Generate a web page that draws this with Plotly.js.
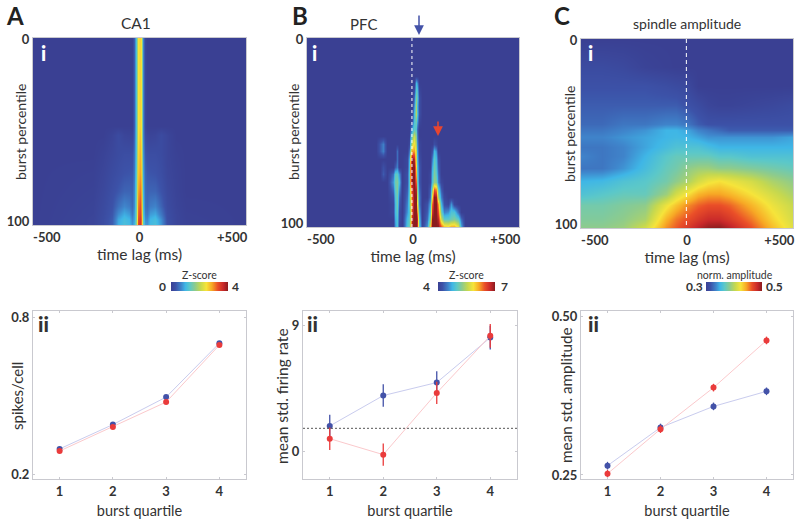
<!DOCTYPE html>
<html><head><meta charset="utf-8">
<script src="https://cdn.plot.ly/plotly-3.0.1.min.js"></script>
<style>html,body{margin:0;padding:0;background:#fff}</style></head>
<body><div id="g" style="width:800px;height:525px"></div>
<script>
const lagA=[-500,-220,-170,-130,-100,-75,-50,-35,-25,-18,-12,-6,0,6,12,18,25,35,50,75,100,130,170,220,500];
const pctA=[0,47,52,62,72,82,90,94,97,100];
const zA=[
[0,0,0,0,0,0,0,0,.4,1.2,1.8,2.5,2.6,2.5,1.6,.7,.1,0,0,0,0,0,0,0,0],
[0,0,0,0,0,0,0,0,.4,1.2,1.8,2.5,2.6,2.5,1.6,.7,.1,0,0,0,0,0,0,0,0],
[0,0,0,.08,.2,.1,.08,.08,.45,1.2,1.8,2.5,2.7,2.5,1.6,.7,.2,.1,.08,.1,.2,.1,0,0,0],
[0,0,.06,.14,.2,.24,.24,.26,.55,1.2,1.9,2.6,2.8,2.6,1.7,.8,.35,.26,.24,.24,.2,.1,.03,0,0],
[0,.03,.1,.2,.26,.32,.34,.36,.6,1.3,2,2.7,2.9,2.7,1.8,.9,.45,.36,.34,.32,.24,.12,.05,0,0],
[0,.05,.14,.26,.36,.46,.46,.44,.7,1.4,2.1,2.9,3.1,2.9,1.9,1,.5,.44,.46,.46,.32,.16,.06,0,0],
[0,.07,.18,.32,.55,.72,.64,.5,.75,1.5,2.3,3.1,3.3,3,2.1,1.1,.55,.5,.64,.7,.45,.2,.08,.02,0],
[0,.08,.2,.36,.75,.95,.85,.6,.85,1.5,2.4,3.2,3.4,3.1,2.2,1.2,.65,.6,.85,.92,.6,.24,.1,.03,0],
[0,.09,.22,.4,.9,1.1,1,.72,.9,1.6,2.5,3.3,3.5,3.2,2.3,1.3,.75,.72,1,1.1,.75,.26,.1,.04,0],
[0,.09,.22,.42,.95,1.15,1.05,.8,1,1.7,2.6,3.4,3.6,3.2,2.4,1.4,.85,.8,1.05,1.15,.8,.28,.1,.04,0]];

const lagB=[-500,-175,-155,-140,-125,-95,-85,-75,-65,-50,-30,-20,-12,-4,4,12,20,30,42,68,80,90,100,110,120,132,148,165,180,195,210,228,245,500];
const pctB=[0,20,24,28,32,36,40,44,48,52,56,60,64,68,72,76,80,84,88,92,96,100];
const zB=[
[4,4,4,4,4,4,4,4,4,4, 4,4,4,4,4,4,4,4,4, 4,4,4,4,4,4,4,4, 4,4,4,4,4, 4,4],
[4,4,4,4,4,4,4,4,4,4, 4,4,4,4,4,4,4,4,4, 4,4,4,4,4,4,4,4, 4,4,4,4,4, 4,4],
[4,4,4,4,4,4,4,4,4,4, 4,4,4,4,4,4.8,4.6,4,4, 4,4,4,4,4,4,4,4, 4,4,4,4,4, 4,4],
[4,4,4,4,4,4,4,4,4,4, 4,4,4,4,4.2,5,4.9,4.1,4, 4,4,4,4,4,4,4,4, 4,4,4,4,4, 4,4],
[4,4,4,4,4,4,4,4,4,4, 4,4,4,4,4.4,5.2,5,4.2,4, 4,4,4,4,4,4,4,4, 4,4,4,4,4, 4,4],
[4,4,4,4,4,4,4,4,4,4, 4,4,4,4,4.6,5.4,4.8,4.2,4, 4,4,4,4,4,4,4,4, 4,4,4,4,4, 4,4],
[4,4,4,4,4,4,4,4,4,4, 4,4,4,4.1,4.8,5.5,4.9,4.2,4, 4,4,4,4,4,4,4,4, 4,4,4,4,4, 4,4],
[4,4,4,4,4,4,4,4,4,4, 4,4,4,4.2,4.9,5.1,4.7,4.1,4, 4,4,4,4,4,4,4,4, 4,4,4,4,4, 4,4],
[4,4,4,4,4,4,4,4,4,4, 4,4,4.2,4.7,5,4.9,4.4,4,4, 4,4,4,4,4,4,4,4, 4,4,4,4,4, 4,4],
[4,4,4,4,4,4,4,4,4,4, 4,4,4.5,5.2,5.6,5.2,4.5,4,4, 4,4,4,4,4,4,4,4, 4,4,4,4,4, 4,4],
[4,4,4.3,4.5,4,4,4,4,4,4, 4,4.1,4.8,5.6,5.9,5.4,4.6,4.1,4, 4,4,4,4.2,4.1,4,4,4, 4,4,4,4,4, 4,4],
[4,4,4.3,4.5,4,4,4,4.4,4,4, 4,4.4,5.2,6.2,6.2,5.6,4.7,4.1,4, 4,4,4.2,4.8,4.6,4,4,4, 4,4,4,4,4, 4,4],
[4,4,4,4,4,4,4,4.4,4,4, 4.1,4.7,5.9,7,6.8,5.6,4.8,4.2,4, 4,4,4.5,5,4.8,4.2,4,4, 4,4,4,4,4, 4,4],
[4,4,4,4.2,4,4,4.3,4.5,4,4, 4.1,4.8,6.2,7,7,5.9,4.9,4.3,4, 4,4,4.7,5.1,4.9,4.3,4,4, 4,4,4,4,4, 4,4],
[4,4,4,4.3,4,4.4,5,5,4.6,4, 4.2,4.9,6.2,7,7,6.1,5,4.3,4, 4,4.1,4.8,5.2,5,4.4,4,4, 4,4,4,4,4, 4,4],
[4,4,4,4,4,4.6,5.1,5.2,4.8,4, 4.2,4.9,6.2,7,7,6.4,5.1,4.3,4, 4,4.1,4.9,5.3,5.2,4.5,4.1,4, 4,4,4,4,4, 4,4],
[4,4,4,4,4,4.4,5,5.2,4.6,4, 4.3,4.9,5.9,6.7,7,6.8,5.3,4.4,4, 4,4.3,5.3,6.4,6.2,5,4.3,4, 4,4,4,4,4, 4,4],
[4,4,4,4,4,4.2,4.9,5.1,4.4,4, 4.4,5,5.6,6.5,7,7,5.6,4.5,4, 4,4.4,5.9,7,6.9,5.4,4.5,4.1, 4,4,4,4,4, 4,4],
[4,4,4,4,4,4.1,4.8,5.1,4.3,4, 4.5,5,5.5,6.5,7,7,5.9,4.5,4, 4.2,4.7,6.4,7,7,6.2,4.8,4.2, 4.1,4.6,4.1,4,4, 4,4],
[4,4,4,4,4,4.1,4.8,5,4.2,4, 4.6,4.9,5.4,6.6,7,7,6.3,4.7,4, 4.3,4.9,6.7,7,7,6.5,5.1,4.5, 4.6,4.9,4.9,4.4,4, 4,4],
[4,4,4,4,4,4,4.7,4.9,4.2,4, 4.8,5,5.5,6.8,7,7,6.8,4.9,4, 4.4,5.2,7,7,7,6.8,5.6,5, 5,5.1,5.2,5,4.4, 4,4],
[4,4,4,4,4,4,4.6,4.9,4.1,4, 4.9,5.1,5.6,7,7,7,6.7,5,4.1, 4.6,5.8,7,7,7,7,6.5,6.1, 6,6.2,6.2,5.8,4.7, 4,4]];

const lagC=[-500,-400,-300,-200,-100,-50,0,50,100,150,200,300,400,500];
const pctC=[0,15,25,35,45,48,52,57,62,68,75,82,88,95,100];
const zC=[
[.3,.3,.3,.3,.3,.3,.3,.3,.3,.3,.3,.3,.3,.3],
[.31,.31,.308,.303,.301,.3,.3,.3,.3,.3,.3,.3,.3,.3],
[.315,.315,.315,.315,.312,.31,.308,.3,.3,.3,.3,.3,.3,.3],
[.32,.32,.32,.32,.32,.32,.315,.31,.305,.303,.303,.305,.307,.31],
[.325,.325,.33,.33,.335,.335,.33,.32,.315,.315,.315,.315,.315,.315],
[.33,.33,.335,.34,.35,.35,.345,.335,.33,.325,.32,.32,.32,.32],
[.335,.335,.34,.345,.35,.352,.35,.345,.34,.34,.34,.34,.34,.345],
[.33,.33,.335,.345,.355,.36,.36,.36,.355,.35,.35,.35,.35,.35],
[.335,.33,.335,.35,.365,.37,.37,.37,.37,.365,.365,.36,.36,.36],
[.33,.33,.34,.355,.37,.375,.385,.39,.39,.385,.385,.38,.375,.37],
[.35,.352,.36,.365,.375,.385,.395,.41,.42,.425,.42,.41,.395,.385],
[.36,.365,.37,.37,.39,.41,.425,.44,.445,.445,.44,.425,.41,.395],
[.375,.375,.38,.385,.42,.435,.45,.46,.465,.465,.46,.44,.42,.405],
[.38,.38,.385,.395,.44,.455,.465,.475,.482,.482,.475,.455,.43,.41],
[.385,.385,.39,.41,.45,.462,.475,.488,.498,.5,.49,.465,.438,.415]];

const quartiles=[1,2,3,4];
const spikesBlue=[.296,.389,.494,.70], spikesRed=[.288,.38,.475,.693];
const firingBlue=[1.79,3.96,4.89,8.1], firingRed=[.88,-.26,4.15,8.23];
const firingBlueErr=[.8,.8,.8,.85], firingRedErr=[.8,.8,.8,.85];
const ampBlue=[.2647,.3247,.3579,.3816], ampRed=[.2521,.3221,.3874,.4616];
const ampBlueErr=[.006,.006,.006,.006], ampRedErr=[.006,.006,.006,.006];
const firingBaseline=1.62;

const jet=[[0,'#3a4093'],[.08,'#3c52a8'],[.18,'#3f86cc'],[.25,'#3fb6e6'],[.33,'#5cc8c8'],[.42,'#8ccb8e'],[.52,'#c5d84f'],[.62,'#f6e43a'],[.72,'#f7a825'],[.82,'#ea4f28'],[.92,'#c7282a'],[1,'#8a1c1f']];
const W=800,H=525;
const FONT='Lato, "Open Sans", sans-serif', INK='#333333', EDGE='#c9c9cf';
const BLUE='#4352a8', RED='#ea3b3b', BLUEL='#c9ccee', REDL='#fbc9cc';
const dx=(a,b)=>[a/W,b/W], dy=(t,b)=>[1-b/H,1-t/H];

function cbar(cx,x0,x1){return {orientation:'h',x:cx/W,xanchor:'center',y:1-291/H,yanchor:'bottom',len:x1-x0,lenmode:'pixels',thickness:9,thicknessmode:'pixels',outlinewidth:0,showticklabels:false,ticks:'',xpad:0,ypad:0};}
function hm(x,y,z,zmin,zmax,n,cb){return {type:'heatmap',x,y,z,zmin,zmax,colorscale:jet,zsmooth:'best',xaxis:'x'+n,yaxis:'y'+n,colorbar:cb,hoverinfo:'skip'};}
function pts(y,err,c,cl,n){const t={type:'scatter',mode:'lines+markers',x:quartiles,y,xaxis:'x'+n,yaxis:'y'+n,showlegend:false,line:{color:cl,width:1},marker:{color:c,size:6},hoverinfo:'skip'};
 if(err)t.error_y={type:'data',array:err,visible:true,color:c,thickness:1.3,width:0};return t;}

const data=[
 hm(lagA,pctA,zA,0,4,1,cbar(199.5,171,228)),
 hm(lagB,pctB,zB,4,7,2,cbar(466.5,438,495)),
 hm(lagC,pctC,zC,.3,.5,3,cbar(734,706,762)),
 pts(spikesBlue,null,BLUE,BLUEL,4),pts(spikesRed,null,RED,REDL,4),
 pts(firingBlue,firingBlueErr,BLUE,BLUEL,5),pts(firingRed,firingRedErr,RED,REDL,5),
 pts(ampBlue,ampBlueErr,BLUE,BLUEL,6),pts(ampRed,ampRedErr,RED,REDL,6)
];

const tickF={family:FONT,size:13,color:INK,weight:700};
function hx(a,b,t){return {domain:dx(a,b),range:[-500,500],tickmode:'array',tickvals:[-435,0,435],ticktext:['-500','0','+500'],ticks:'',tickfont:tickF,showgrid:false,zeroline:false,showline:true,linecolor:EDGE,linewidth:1,mirror:true,anchor:'y'+t,title:{text:'time lag (ms)',font:{family:FONT,size:15.5,color:INK},standoff:1}};}
function hy(t,b,n){return {domain:dy(t,b),range:[100,0],tickmode:'array',tickvals:[1,98],ticktext:['0','100'],ticks:'',tickfont:tickF,showgrid:false,zeroline:false,showline:true,linecolor:EDGE,mirror:true,anchor:'x'+n};}
function lx(a,b,n){return {domain:dx(a,b),range:[.5,4.5],tickmode:'array',tickvals:quartiles,ticktext:['1','2','3','4'],ticks:'inside',ticklen:2,tickcolor:EDGE,tickfont:tickF,showgrid:false,zeroline:false,showline:true,linecolor:EDGE,linewidth:1,mirror:'allticks',anchor:'y'+n,title:{text:'burst quartile',font:{family:FONT,size:14.5,color:INK},standoff:8}};}
function ly(r,tv,tt,n){return {domain:dy(311,479),range:r,tickmode:'array',tickvals:tv,ticktext:tt,ticks:'inside',ticklen:2,tickcolor:EDGE,tickfont:tickF,showgrid:false,zeroline:false,showline:true,linecolor:EDGE,linewidth:1,mirror:'allticks',anchor:'x'+n};}

function txt(x,y,text,size,color,weight,extra){return Object.assign({xref:'paper',yref:'paper',x:x/W,y:1-y/H,text,showarrow:false,xanchor:'center',yanchor:'middle',font:{family:FONT,size,color,weight:weight||400}},extra||{});}
function arrow(x,y0,y1,c){return {xref:'paper',yref:'paper',x:x/W,y:1-y1/H,text:'',showarrow:true,ax:0,ay:y0-y1,arrowcolor:c,arrowwidth:1.5,arrowhead:2,arrowsize:1.3,standoff:0};}
const rot={textangle:-90};

const annotations=[
 txt(15,16,'A',24,'#222',700),txt(300,16,'B',24,'#222',700),txt(562,16,'C',24,'#222',700),
 txt(136,23,'CA1',15.5,INK),txt(363,24,'PFC',15,INK),txt(687,23,'spindle amplitude',14,INK),
 txt(43,53,'i',20,'#fff',900),txt(314,53,'i',20,'#fff',900),txt(590,53,'i',20,'#fff',900),
 txt(43,323,'ii',21,INK,900),txt(312,323,'ii',21,INK,900),txt(593,323,'ii',21,INK,900),
 txt(20,132,'burst percentile',14,INK,400,rot),txt(293,132,'burst percentile',14,INK,400,rot),txt(569,134,'burst percentile',14,INK,400,rot),
 txt(17,396,'spikes/cell',15,INK,400,rot),txt(282,396,'mean std. firing rate',15.5,INK,400,rot),txt(566,395,'mean std. amplitude',15.3,INK,400,rot),
 txt(199.5,275,'Z-score',10.5,INK),txt(466.5,275,'Z-score',10.5,INK),txt(735,275,'norm. amplitude',10.5,INK),
 txt(162,286,'0',12,INK,700),txt(235,286,'4',12,INK,700),
 txt(427,286,'4',12,INK,700),txt(504,286,'7',12,INK,700),
 txt(694,286,'0.3',12,INK,700),txt(774,286,'0.5',12,INK,700),
 arrow(419,14,35,BLUE),arrow(438,120,136,'#e8452f')
];
const shapes=[
 {type:'line',xref:'x2',yref:'y2',x0:-5,x1:-5,y0:0,y1:100,line:{color:'#fff',width:1,dash:'3px,3px'}},
 {type:'line',xref:'x3',yref:'y3',x0:-3,x1:-3,y0:0,y1:100,line:{color:'#fff',width:1,dash:'4px,3px'}},
 {type:'line',xref:'x5',yref:'y5',x0:.5,x1:4.5,y0:firingBaseline,y1:firingBaseline,line:{color:'#555',width:1,dash:'2px,2px'}}
];
const layout={width:W,height:H,margin:{l:0,r:0,t:0,b:0},paper_bgcolor:'#fff',plot_bgcolor:'#fff',showlegend:false,font:{family:FONT,color:INK},
 xaxis:hx(33,246,1),yaxis:hy(38,225,1),
 xaxis2:hx(307,519,2),yaxis2:hy(38,227,2),
 xaxis3:hx(581,793,3),yaxis3:hy(39,228,3),
 xaxis4:lx(33,246,4),yaxis4:ly([.181,.823],[.2,.8],['0.2','0.8'],4),
 xaxis5:lx(303,517,5),yaxis5:ly([-2,10],[0,9],['0','9'],5),
 xaxis6:lx(581,793,6),yaxis6:ly([.2437,.5079],[.25,.5],['0.25','0.50'],6),
 annotations,shapes};
Plotly.newPlot('g',data,layout,{displayModeBar:false,staticPlot:true});
</script></body></html>
